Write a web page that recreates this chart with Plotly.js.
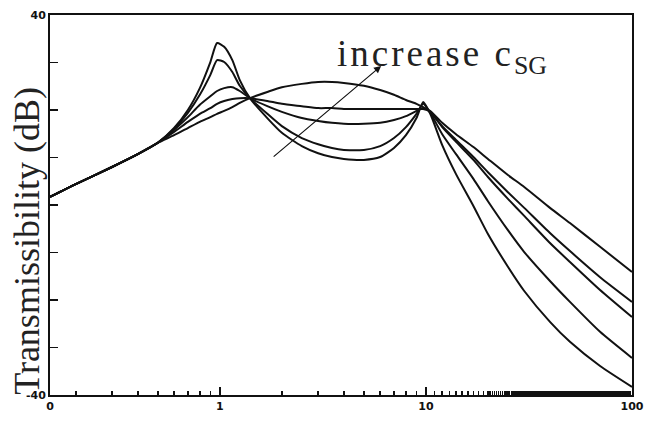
<!DOCTYPE html>
<html>
<head>
<meta charset="utf-8">
<script src="https://cdn.plot.ly/plotly-3.0.1.min.js"></script>
<style>html,body{margin:0;padding:0;background:#fff;}#chart{width:645px;height:421px;}</style>
</head>
<body>
<div id="chart"></div>
<script>
// frequency grid (Hz)
const freq = [0.15, 0.2, 0.3, 0.4, 0.5, 0.6, 0.7, 0.8, 0.9, 0.97, 1.05, 1.15, 1.25, 1.4, 1.7, 2, 2.5, 3, 3.5, 4, 5, 6, 7, 8, 9, 9.7, 10.5, 12, 14, 17, 20, 25, 30, 40, 50, 70, 100];

// transmissibility (dB), five values of c_SG (increasing A -> E)
const tA = [1.7, 4.4, 8.0, 10.7, 13.1, 16.2, 20.0, 24.6, 30.1, 34.1, 33.3, 30.5, 26.3, 22.5, 18.3, 15.2, 12.4, 10.9, 10.1, 9.7, 9.5, 10.1, 12.0, 14.7, 18.3, 21.7, 19.2, 12.6, 6.5, -0.2, -6.1, -13.0, -18.1, -24.6, -28.8, -33.9, -38.3];
const tB = [1.7, 4.4, 8.0, 10.7, 13.1, 16.0, 19.4, 23.2, 27.4, 30.5, 30.1, 28.0, 25.1, 22.5, 19.2, 16.6, 14.1, 12.8, 12.0, 11.6, 11.6, 12.4, 14.1, 16.4, 19.2, 21.3, 19.4, 14.9, 10.7, 5.5, 0.8, -5.3, -9.9, -16.0, -20.4, -26.7, -32.2];
const tC = [1.7, 4.4, 8.0, 10.7, 13.1, 15.8, 18.5, 21.1, 22.9, 24.0, 24.6, 24.8, 24.0, 22.5, 20.8, 19.6, 18.3, 17.7, 17.3, 17.1, 17.1, 17.3, 17.9, 18.7, 19.8, 20.4, 19.6, 16.4, 13.3, 9.5, 5.9, 1.3, -2.3, -8.0, -12.0, -17.9, -23.6];
const tD = [1.7, 4.4, 8.0, 10.7, 13.1, 15.4, 17.5, 19.2, 20.4, 21.3, 21.9, 22.3, 22.5, 22.5, 21.9, 21.3, 20.8, 20.4, 20.4, 20.2, 20.2, 20.2, 20.2, 20.2, 20.2, 20.2, 19.6, 16.6, 13.7, 10.1, 6.9, 2.7, -0.6, -5.9, -9.7, -15.2, -20.4];
const tE = [1.7, 4.4, 8.0, 10.7, 13.1, 14.7, 16.2, 17.5, 18.5, 19.2, 19.8, 20.6, 21.5, 22.5, 23.8, 24.8, 25.5, 25.9, 25.9, 25.7, 25.1, 24.2, 23.2, 22.1, 21.3, 20.6, 19.8, 17.3, 14.9, 12.2, 9.7, 6.3, 3.8, -0.6, -3.8, -8.8, -14.1];

// axis ticks
const xTickVals = [0.15, 1, 10, 100];
const xTickText = ['0', '1', '10', '100'];
const xMinorBase = [0.2, 0.3, 0.4, 0.5, 0.6, 0.7, 0.8, 0.9, 2, 3, 4, 5, 6, 7, 8, 9, 11, 12, 13, 14, 15, 16, 17, 18, 19];
const yTickVals = [-40, -30, -20, -10, 0, 10, 20, 30, 40];
const yTickText = ['-40', '', '', '', '', '', '', '', '40'];

// dense minor ticks between 20 and 100 (as on the printed axis)
const xMinorVals = xMinorBase.slice();
for (let v = 20; v < 100; v += 0.5) { xMinorVals.push(v); }

const series = [tA, tB, tC, tD, tE];
const traces = series.map(function (y) {
  return {
    x: freq, y: y, type: 'scatter', mode: 'lines',
    line: {color: '#111', width: 2, shape: 'spline', smoothing: 0.6},
    showlegend: false, hoverinfo: 'skip'
  };
});

const layout = {
  width: 645, height: 421,
  margin: {l: 50, r: 13, t: 15, b: 26},
  paper_bgcolor: '#fff', plot_bgcolor: '#fff',
  showlegend: false,
  xaxis: {
    type: 'log', range: [Math.log10(0.15), 2],
    tickmode: 'array', tickvals: xTickVals, ticktext: xTickText,
    ticks: 'inside', ticklen: 8, tickwidth: 1.5, tickcolor: '#111',
    minor: {tickmode: 'array', tickvals: xMinorVals, ticks: 'inside', ticklen: 4, tickwidth: 1.5, tickcolor: '#111', showgrid: false},
    showgrid: false, zeroline: false,
    showline: true, linecolor: '#111', linewidth: 2, mirror: true,
    tickfont: {family: 'DejaVu Sans, Arial, sans-serif', size: 11, color: '#111', weight: 'bold'}
  },
  yaxis: {
    range: [-40, 40],
    tickmode: 'array', tickvals: yTickVals, ticktext: yTickText,
    ticks: 'inside', ticklen: 8, tickwidth: 1.5, tickcolor: '#111',
    showgrid: false, zeroline: false,
    showline: true, linecolor: '#111', linewidth: 2, mirror: true,
    tickfont: {family: 'DejaVu Sans, Arial, sans-serif', size: 11, color: '#111', weight: 'bold'}
  },
  annotations: [
    {
      xref: 'paper', yref: 'paper', x: -0.04, y: 0.405,
      xanchor: 'center', yanchor: 'middle', textangle: -90,
      text: 'Transmissibility (dB)', showarrow: false,
      font: {family: 'Liberation Serif, Times New Roman, serif', size: 36, color: '#222'}
    },
    {
      xref: 'paper', yref: 'paper', x: 0.49, y: 0.89,
      xanchor: 'left', yanchor: 'middle',
      text: '<span style="letter-spacing:3px">increase c</span><sub>SG</sub>', showarrow: false,
      font: {family: 'Liberation Serif, Times New Roman, serif', size: 37, color: '#222'}
    },
    {
      xref: 'paper', yref: 'paper', x: 0.569, y: 0.866,
      ax: -109, ay: 92, text: '', showarrow: true,
      arrowhead: 2, arrowsize: 1.2, arrowwidth: 1.2, arrowcolor: '#111'
    }
  ]
};

Plotly.newPlot('chart', traces, layout, {staticPlot: true, displayModeBar: false});
</script>
</body>
</html>
